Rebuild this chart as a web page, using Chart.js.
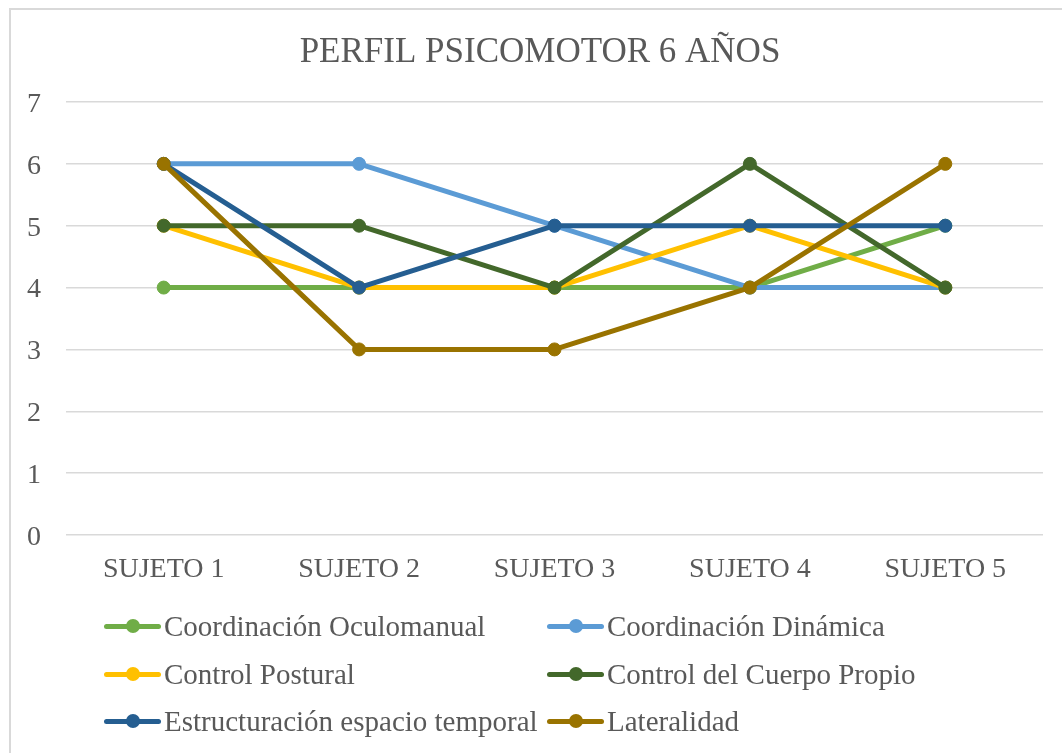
<!DOCTYPE html>
<html>
<head>
<meta charset="utf-8">
<script src="https://cdn.jsdelivr.net/npm/chart.js@4"></script>
<style>
  html, body { margin: 0; padding: 0; background: #fff; width: 1062px; height: 753px; overflow: hidden; }
  #frame { position: absolute; left: 9px; top: 8px; width: 1100px; height: 800px; border: 2px solid #D9D9D9; box-sizing: border-box; }
  #wrap { position: absolute; left: 0; top: 0; width: 1062px; height: 753px; }
  #legend { position: absolute; left: 0; top: 0; width: 1062px; height: 753px; pointer-events: none; }
  .item { position: absolute; height: 30px; display: flex; align-items: center; font-family: "Liberation Serif", "Times New Roman", serif; font-size: 29px; color: #595959; white-space: nowrap; }
  .sym { position: relative; width: 57px; height: 14px; margin-right: 3px; }
  .sym .ln { position: absolute; left: 0; top: 4.5px; width: 57px; height: 5px; border-radius: 3px; }
  .sym .pt { position: absolute; left: 21.5px; top: 0; width: 14px; height: 14px; border-radius: 50%; }
</style>
</head>
<body>
<div id="frame"></div>
<div id="wrap"><canvas id="c" width="1062" height="753"></canvas></div>
<div id="legend"></div>
<script>
const chartTitle = "PERFIL PSICOMOTOR 6 AÑOS";
const categories = ["SUJETO 1", "SUJETO 2", "SUJETO 3", "SUJETO 4", "SUJETO 5"];
const seriesNames = ["Coordinación Oculomanual", "Coordinación Dinámica", "Control Postural", "Control del Cuerpo Propio", "Estructuración espacio temporal", "Lateralidad"];
const coordinacionOculomanual = [4, 4, 4, 4, 5];
const coordinacionDinamica = [6, 6, 5, 4, 4];
const controlPostural = [5, 4, 4, 5, 4];
const controlCuerpoPropio = [5, 5, 4, 6, 4];
const estructuracionEspacioTemporal = [6, 4, 5, 5, 5];
const lateralidad = [6, 3, 3, 4, 6];
const seriesColors = ["#70AD47", "#5B9BD5", "#FFC000", "#43682B", "#255E91", "#997300"];
const yMin = 0, yMax = 7, yStep = 1;

const seriesValues = [coordinacionOculomanual, coordinacionDinamica, controlPostural, controlCuerpoPropio, estructuracionEspacioTemporal, lateralidad];
const fontFamily = '"Liberation Serif", "Times New Roman", serif';
const textColor = "#595959";

const datasets = seriesNames.map((name, i) => ({
  label: name,
  data: seriesValues[i],
  borderColor: seriesColors[i],
  backgroundColor: seriesColors[i],
  pointBackgroundColor: seriesColors[i],
  pointBorderColor: seriesColors[i],
  borderWidth: 5,
  pointRadius: 6.5,
  pointBorderWidth: 1,
  borderCapStyle: 'round',
  borderJoinStyle: 'round',
  tension: 0,
  fill: false,
  order: seriesNames.length - i
}));

// center the title over the whole chart frame (as in the original)
const titleCenterPlugin = {
  id: 'titleCenter',
  beforeDraw(chart) {
    const t = chart.titleBlock;
    if (t) { t.left = 37; t.right = chart.chartArea.right; }
  }
};

new Chart(document.getElementById('c'), {
  type: 'line',
  data: { labels: categories, datasets },
  plugins: [titleCenterPlugin],
  options: {
    responsive: false,
    animation: false,
    layout: { padding: { left: 0, right: 19, top: 0, bottom: 158 } },
    plugins: {
      legend: { display: false },
      tooltip: { enabled: false },
      title: {
        display: true,
        text: chartTitle,
        color: textColor,
        font: { family: fontFamily, size: 35, weight: 'normal', lineHeight: 1.2 },
        padding: { top: 32, bottom: 28 }
      }
    },
    scales: {
      x: {
        offset: true,
        grid: { display: false, drawTicks: false },
        border: { display: false },
        ticks: { color: textColor, font: { family: fontFamily, size: 28 }, padding: 18, maxRotation: 0 },
        afterFit: (s) => { s.height = 60; }
      },
      y: {
        min: yMin, max: yMax,
        grid: { color: "#D9D9D9", lineWidth: 1.5, drawTicks: false },
        border: { display: false },
        ticks: { stepSize: yStep, color: textColor, font: { family: fontFamily, size: 28 }, padding: 25, labelOffset: 2.5 },
        afterFit: (s) => { s.width = 66; }
      }
    }
  }
});

// HTML legend (two columns), built from the series arrays
const legend = document.getElementById('legend');
const colX = [104, 547];
const rowY = [626, 674, 721];
seriesNames.forEach((name, i) => {
  const it = document.createElement('div');
  it.className = 'item';
  it.style.left = colX[i % 2] + 'px';
  it.style.top = (rowY[Math.floor(i / 2)] - 15) + 'px';
  const sym = document.createElement('div');
  sym.className = 'sym';
  const ln = document.createElement('div'); ln.className = 'ln'; ln.style.background = seriesColors[i];
  const pt = document.createElement('div'); pt.className = 'pt'; pt.style.background = seriesColors[i];
  sym.appendChild(ln); sym.appendChild(pt);
  const tx = document.createElement('span');
  tx.textContent = name;
  it.appendChild(sym); it.appendChild(tx);
  legend.appendChild(it);
});
</script>
</body>
</html>
